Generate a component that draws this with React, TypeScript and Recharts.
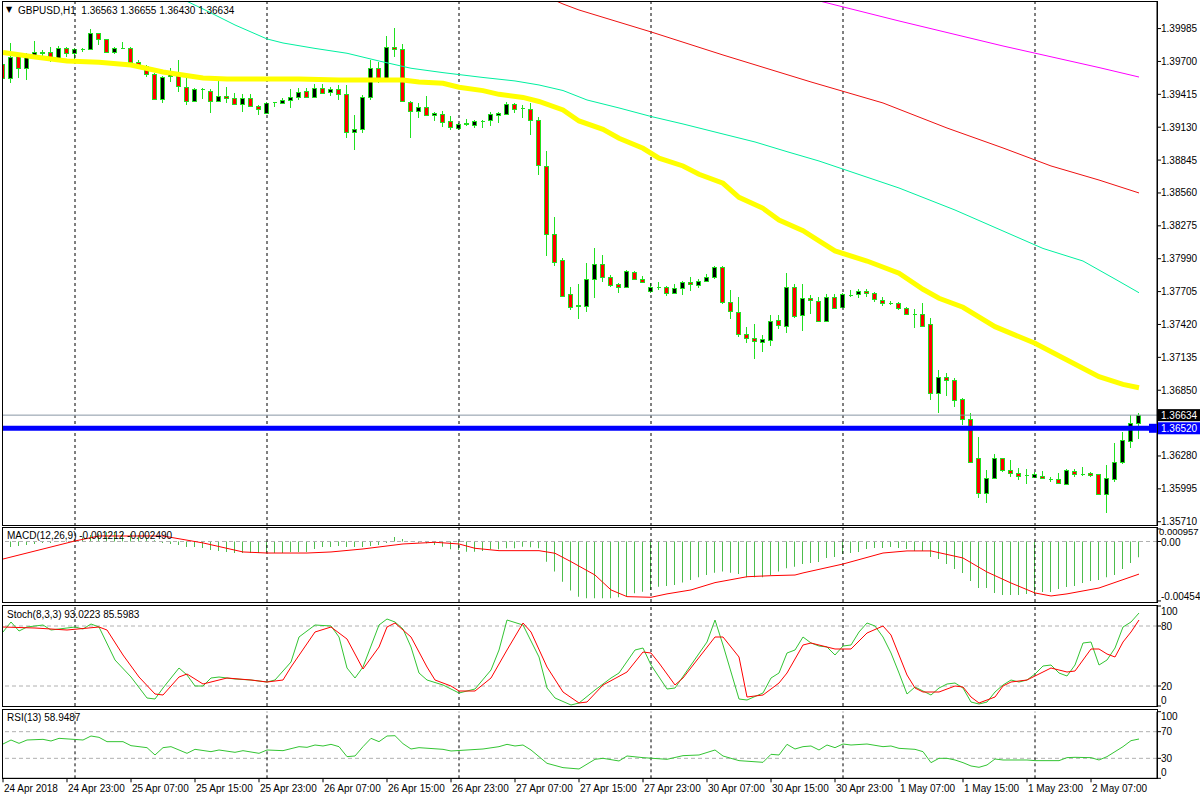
import React from 'react';
import { ComposedChart, Bar, Line, XAxis, YAxis, ReferenceLine } from 'recharts';

const FONT = '"Liberation Sans", Arial, sans-serif';
const X_DOMAIN: [number, number] = [-0.125, 144.25];
const WICK = '#20e020';

// GBPUSD H1, 24 Apr 15:00 .. 2 May 13:00
const openP = [
  1.39676, 1.39554, 1.3975, 1.39641, 1.39756, 1.39776, 1.3978, 1.39728, 1.39814, 1.39771,
  1.39806, 1.39806, 1.39944, 1.39892, 1.3978, 1.39818, 1.39819, 1.39693, 1.39663, 1.39589,
  1.39372, 1.39574, 1.39597, 1.39481, 1.39357, 1.39458, 1.39447, 1.39357, 1.39403, 1.39381,
  1.39329, 1.39381, 1.39314, 1.39251, 1.39346, 1.39337, 1.39366, 1.39396, 1.39444, 1.39395,
  1.39467, 1.39433, 1.39459, 1.39415, 1.39086, 1.39112, 1.39395, 1.39641, 1.39554, 1.39828,
  1.39806, 1.39351, 1.39271, 1.39303, 1.39233, 1.39242, 1.39184, 1.39121, 1.39161, 1.39147,
  1.39186, 1.39193, 1.39233, 1.39242, 1.39329, 1.39294, 1.39285, 1.39193, 1.38794, 1.38204,
  1.37979, 1.37681, 1.3758, 1.37583, 1.37812, 1.37944, 1.37834, 1.37768, 1.37742, 1.37877,
  1.37812, 1.3771, 1.37746, 1.37747, 1.3769, 1.37733, 1.37788, 1.37762, 1.37797, 1.37834,
  1.37916, 1.37612, 1.37525, 1.37335, 1.373, 1.37271, 1.37285, 1.37459, 1.37411, 1.37749,
  1.37499, 1.37647, 1.37626, 1.3745, 1.37661, 1.37574, 1.37678, 1.37681, 1.3771, 1.3769,
  1.37632, 1.37608, 1.37603, 1.3756, 1.37512, 1.37508, 1.37421, 1.36823, 1.36967, 1.36938,
  1.36771, 1.36598, 1.3626, 1.35956, 1.36086, 1.3626, 1.36158, 1.3613, 1.36115, 1.36095,
  1.36109, 1.36083, 1.36078, 1.36034, 1.36147, 1.36124, 1.3613, 1.36121, 1.3595, 1.3608,
  1.36228, 1.36412, 1.36563,
];
const highP = [
  1.39695, 1.39858, 1.39771, 1.39771, 1.39878, 1.398, 1.39828, 1.39834, 1.39828, 1.39814,
  1.39819, 1.39979, 1.3995, 1.39894, 1.39828, 1.39872, 1.39828, 1.39713, 1.39669, 1.39597,
  1.39574, 1.39641, 1.39713, 1.39597, 1.39467, 1.39467, 1.39459, 1.39539, 1.39481, 1.39424,
  1.39418, 1.39415, 1.39323, 1.39351, 1.39351, 1.39381, 1.39459, 1.39467, 1.39467, 1.39505,
  1.39505, 1.39476, 1.39496, 1.39496, 1.39236, 1.39409, 1.39713, 1.39698, 1.39921, 1.39988,
  1.39852, 1.39357, 1.39343, 1.39401, 1.39265, 1.39271, 1.39227, 1.39169, 1.39201, 1.39193,
  1.39193, 1.39265, 1.39259, 1.39351, 1.39337, 1.39323, 1.39337, 1.39221, 1.38926, 1.38354,
  1.37994, 1.37742, 1.37771, 1.37957, 1.3808, 1.38022, 1.37849, 1.37782, 1.37892, 1.37886,
  1.37837, 1.37782, 1.37791, 1.37753, 1.37771, 1.37799, 1.37829, 1.37812, 1.37855, 1.37927,
  1.37927, 1.37719, 1.37655, 1.37395, 1.37424, 1.37329, 1.37502, 1.37502, 1.37864, 1.37771,
  1.37771, 1.37675, 1.37661, 1.37681, 1.37681, 1.3769, 1.37719, 1.37725, 1.37725, 1.37699,
  1.37655, 1.37626, 1.37617, 1.37574, 1.37551, 1.37609, 1.37473, 1.37025, 1.36997, 1.36953,
  1.36785, 1.3665, 1.36442, 1.36158, 1.36297, 1.36262, 1.36245, 1.36173, 1.36164, 1.36137,
  1.36147, 1.361, 1.3613, 1.36164, 1.36164, 1.36181, 1.36137, 1.36124, 1.36204, 1.36395,
  1.3649, 1.36635, 1.36655,
];
const lowP = [
  1.3947, 1.39516, 1.39554, 1.39539, 1.39719, 1.39728, 1.39698, 1.39713, 1.39741, 1.39698,
  1.39785, 1.398, 1.39843, 1.39771, 1.39765, 1.39806, 1.39684, 1.39661, 1.39563, 1.39366,
  1.39337, 1.39525, 1.39438, 1.39323, 1.39351, 1.39372, 1.39251, 1.39351, 1.39337, 1.39323,
  1.39265, 1.39308, 1.39236, 1.39245, 1.39303, 1.39329, 1.39294, 1.39366, 1.39389, 1.39389,
  1.39424, 1.39403, 1.39366, 1.39034, 1.38933, 1.39082, 1.39366, 1.39516, 1.39539, 1.39736,
  1.39351, 1.39039, 1.39207, 1.39227, 1.39182, 1.39134, 1.39106, 1.39106, 1.39141, 1.39126,
  1.39121, 1.39141, 1.39169, 1.39236, 1.39251, 1.39207, 1.39063, 1.38716, 1.38016, 1.37929,
  1.37655, 1.37545, 1.37465, 1.37531, 1.37652, 1.37791, 1.37742, 1.3769, 1.37733, 1.37805,
  1.37777, 1.3769, 1.37719, 1.37667, 1.37684, 1.37675, 1.3771, 1.37733, 1.37791, 1.37812,
  1.37595, 1.37467, 1.37314, 1.37262, 1.37118, 1.37184, 1.37235, 1.37378, 1.37348, 1.37473,
  1.37363, 1.37511, 1.37444, 1.37444, 1.3756, 1.37569, 1.37661, 1.37652, 1.37661, 1.37612,
  1.37583, 1.37589, 1.37545, 1.37502, 1.37392, 1.37407, 1.36765, 1.36655, 1.368, 1.36707,
  1.36548, 1.36216, 1.35913, 1.35869, 1.36078, 1.36137, 1.361, 1.36071, 1.36036, 1.36086,
  1.36078, 1.36057, 1.36033, 1.36028, 1.361, 1.36106, 1.36095, 1.35941, 1.35783, 1.36057,
  1.3621, 1.36346, 1.3643,
];
const closeP = [
  1.39554, 1.39741, 1.39641, 1.3975, 1.3978, 1.39778, 1.39728, 1.39819, 1.39771, 1.39808,
  1.39808, 1.39944, 1.39892, 1.3978, 1.39814, 1.39819, 1.39693, 1.39669, 1.39591, 1.39372,
  1.39563, 1.39597, 1.39487, 1.39357, 1.39459, 1.39459, 1.39357, 1.39403, 1.39381, 1.39329,
  1.39386, 1.39314, 1.39285, 1.39343, 1.39347, 1.39366, 1.39388, 1.39431, 1.39395, 1.39467,
  1.39429, 1.39459, 1.39415, 1.39086, 1.39112, 1.39395, 1.39641, 1.39554, 1.39828, 1.39806,
  1.39357, 1.39271, 1.39303, 1.39236, 1.39251, 1.39175, 1.39129, 1.39156, 1.39164, 1.39182,
  1.39188, 1.39242, 1.39251, 1.39329, 1.39288, 1.39295, 1.39193, 1.38802, 1.38202, 1.37964,
  1.37669, 1.37574, 1.37593, 1.37812, 1.37944, 1.37834, 1.37762, 1.37742, 1.37886, 1.37812,
  1.37791, 1.37747, 1.37747, 1.3769, 1.37733, 1.37785, 1.37768, 1.37794, 1.37834, 1.37916,
  1.37617, 1.37537, 1.37335, 1.373, 1.37277, 1.37291, 1.37453, 1.37415, 1.37749, 1.37496,
  1.37647, 1.37629, 1.3745, 1.37655, 1.37565, 1.37681, 1.37679, 1.37713, 1.3769, 1.37638,
  1.37603, 1.37609, 1.3756, 1.37511, 1.37511, 1.37409, 1.36823, 1.36967, 1.36938, 1.36765,
  1.36598, 1.36225, 1.35956, 1.36086, 1.3626, 1.36158, 1.3613, 1.36109, 1.36114, 1.36121,
  1.36091, 1.36082, 1.36043, 1.36158, 1.36121, 1.36123, 1.36115, 1.3595, 1.36086, 1.36228,
  1.36418, 1.36563, 1.36634,
];

const timeLabels: [number, string][] = [
  [0, '24 Apr 2018'], [8, '24 Apr 23:00'], [16, '25 Apr 07:00'], [24, '25 Apr 15:00'],
  [32, '25 Apr 23:00'], [40, '26 Apr 07:00'], [48, '26 Apr 15:00'], [56, '26 Apr 23:00'],
  [64, '27 Apr 07:00'], [72, '27 Apr 15:00'], [80, '27 Apr 23:00'], [88, '30 Apr 07:00'],
  [96, '30 Apr 15:00'], [104, '30 Apr 23:00'], [112, '1 May 07:00'], [120, '1 May 15:00'],
  [128, '1 May 23:00'], [136, '2 May 07:00'],
];
const daySplits = [9, 33, 57, 81, 105, 129];

// moving averages, read at key bars
const maYellow: [number, number][] = [
  [0, 1.39778], [4, 1.39739], [8, 1.39704], [12, 1.39693], [16, 1.39669], [20, 1.39609],
  [25, 1.39557], [28, 1.39548], [37, 1.39548], [42, 1.39539], [50, 1.39539], [52, 1.39522],
  [55, 1.39511], [57, 1.39476], [60, 1.39447], [62, 1.39415], [65, 1.39388], [67, 1.39353],
  [70, 1.39279], [72, 1.39184], [75, 1.39112], [77, 1.39034], [80, 1.38947], [82, 1.38861],
  [85, 1.38794], [87, 1.38722], [90, 1.38644], [92, 1.38522], [95, 1.38427], [97, 1.38326],
  [100, 1.38233], [102, 1.38144], [104, 1.38057], [108, 1.3797], [112, 1.37864], [115, 1.37725],
  [117, 1.37647], [120, 1.37569], [124, 1.37401], [129, 1.37257], [133, 1.37112], [137, 1.36967],
  [140, 1.36901], [142, 1.36872],
];
const maTeal: [number, number][] = [
  [20, 1.4032], [25, 1.40155], [29, 1.40016], [33, 1.39895], [35, 1.3986], [39, 1.39813],
  [43, 1.39771], [47, 1.39704], [51, 1.39641], [55, 1.39603], [60, 1.39561], [64, 1.39531],
  [67, 1.39496], [70, 1.39448], [73, 1.39366], [77, 1.39297], [81, 1.39223], [85, 1.39158],
  [90, 1.39071], [94, 1.39002], [98, 1.38918], [102, 1.38837], [112, 1.38603], [119, 1.38412],
  [130, 1.38079], [135, 1.3797], [139, 1.37814], [142, 1.37695],
];
const maRed: [number, number][] = [
  [68, 1.40259], [70, 1.40198], [72, 1.40146], [81, 1.39956], [90, 1.39756], [101, 1.39522],
  [110, 1.3934], [118, 1.39123], [125, 1.3895], [131, 1.38794], [137, 1.38672], [142, 1.3856],
];
const maMagenta: [number, number][] = [
  [100, 1.4026], [112, 1.40051], [125, 1.39834], [137, 1.39647], [142, 1.39565],
];

const macdMain = [
  -0.00065, -0.00042, -0.00034, -0.00027, -0.00019, -0.00011, -0.00011, -0.00004, -0.00004, 0.00004,
  0.0003, 0.0005, 0.0006, 0.0007, 0.0007, 0.0006, 0.0006, 0.0005, 0.0003, 0.0001,
  -0.00011, -0.00019, -0.00027, -0.00042, -0.00042, -0.0005, -0.00065, -0.00072, -0.0008, -0.00088,
  -0.00088, -0.00088, -0.00088, -0.00088, -0.00088, -0.00088, -0.0008, -0.0008, -0.0008, -0.00057,
  -0.00042, -0.00042, -0.00034, -0.00042, -0.00042, -0.00042, -0.00034, -0.00027, -0.00011, 0.00034,
  0.00019, -0.00002, -0.00009, -0.00014, -0.00027, -0.0004, -0.0006, -0.00065, -0.00078, -0.00078,
  -0.00072, -0.0006, -0.0006, -0.00052, -0.00052, -0.0004, -0.00044, -0.00052, -0.00154, -0.0023,
  -0.00307, -0.00375, -0.00421, -0.00433, -0.00433, -0.00433, -0.00433, -0.00426, -0.00416, -0.00395,
  -0.00383, -0.0037, -0.00345, -0.0034, -0.00332, -0.00314, -0.00294, -0.00273, -0.00256, -0.00238,
  -0.0023, -0.00238, -0.00248, -0.00273, -0.00273, -0.00273, -0.00256, -0.0023, -0.00204, -0.00192,
  -0.00172, -0.00164, -0.00156, -0.00126, -0.00118, -0.00095, -0.00088, -0.0008, -0.00057, -0.0005,
  -0.0005, -0.00042, -0.0005, -0.00057, -0.00072, -0.00072, -0.00118, -0.00134, -0.00172, -0.0021,
  -0.0024, -0.00301, -0.00355, -0.00355, -0.00393, -0.00408, -0.00408, -0.00408, -0.004, -0.004,
  -0.00385, -0.00385, -0.00362, -0.00347, -0.0034, -0.00317, -0.00301, -0.00294, -0.00273, -0.00256,
  -0.0021, -0.00164, -0.00121,
];
const macdSignal: [number, number][] = [
  [0, -0.00134], [9, 0.00004], [12, 0.00042], [20, 0.00042], [25, -0.00011], [30, -0.0008],
  [33, -0.00088], [38, -0.00088], [41, -0.0008], [45, -0.00057], [50, -0.00019], [54, -0.00006],
  [57, -0.00019], [59, -0.00052], [62, -0.0007], [67, -0.0007], [69, -0.0009], [71, -0.00154],
  [74, -0.00256], [76, -0.0037], [78, -0.00421], [81, -0.00426], [83, -0.004], [86, -0.0037],
  [89, -0.00314], [93, -0.00269], [96, -0.00261], [99, -0.00256], [100, -0.0024], [105, -0.00172],
  [110, -0.00088], [113, -0.00072], [116, -0.00072], [120, -0.00126], [123, -0.00233], [126, -0.00317],
  [129, -0.00393], [131, -0.00416], [133, -0.004], [137, -0.00355], [142, -0.00249],
];

const stochK: [number, number][] = [
  [0, 74], [1, 84], [2, 75], [3, 79], [5, 81], [6, 76], [8, 78], [9, 79], [10, 77], [11, 82],
  [12, 79], [14, 46], [16, 29], [18, 8], [19, 7], [20, 18], [22, 38], [23, 31], [24, 20], [25, 20],
  [26, 28], [27, 29], [29, 27], [31, 26], [33, 24], [34, 26], [36, 44], [37, 69], [39, 81], [41, 80],
  [42, 69], [43, 38], [44, 28], [45, 39], [47, 81], [48, 87], [49, 84], [50, 77], [51, 59], [52, 33],
  [53, 26], [55, 21], [57, 13], [59, 17], [61, 36], [62, 56], [63, 86], [65, 81], [67, 49], [68, 18],
  [69, 8], [71, 1], [72, 3], [74, 16], [76, 28], [77, 33], [79, 56], [80, 58], [81, 41], [83, 17],
  [84, 18], [86, 41], [88, 64], [89, 86], [90, 61], [92, 7], [93, 6], [95, 13], [96, 28], [97, 33],
  [98, 53], [99, 56], [100, 69], [101, 63], [102, 60], [103, 59], [104, 51], [105, 60], [106, 61], [107, 74],
  [108, 83], [109, 80], [110, 69], [111, 53], [112, 33], [113, 12], [114, 19], [115, 15], [116, 11], [117, 18],
  [118, 22], [119, 23], [120, 18], [121, 4], [122, 2], [123, 4], [124, 14], [125, 21], [126, 26], [127, 24],
  [128, 26], [129, 32], [130, 40], [131, 41], [132, 33], [133, 30], [134, 41], [135, 63], [136, 64], [137, 41],
  [138, 46], [139, 58], [140, 79], [141, 84], [142, 93],
];
const stochD: [number, number][] = [
  [0, 79], [4, 78], [8, 76], [12, 79], [13, 76], [15, 51], [17, 29], [19, 12], [20, 11], [22, 29],
  [23, 32], [25, 22], [27, 26], [28, 28], [31, 26], [33, 24], [35, 26], [36, 39], [39, 74], [41, 79],
  [43, 67], [45, 37], [47, 59], [48, 79], [49, 83], [51, 69], [53, 39], [54, 26], [56, 20], [57, 15],
  [59, 15], [61, 28], [63, 56], [65, 83], [66, 74], [68, 39], [70, 14], [72, 3], [73, 4], [75, 21],
  [78, 34], [80, 54], [81, 53], [82, 43], [84, 21], [85, 28], [89, 69], [90, 69], [92, 49], [93, 9],
  [95, 11], [97, 23], [98, 33], [99, 47], [100, 61], [101, 63], [102, 61], [104, 57], [106, 57], [108, 73],
  [110, 80], [111, 71], [112, 51], [113, 31], [114, 18], [115, 14], [117, 14], [119, 20], [120, 19], [121, 9],
  [122, 3], [124, 9], [125, 20], [126, 24], [128, 26], [129, 30], [131, 38], [133, 34], [134, 35], [136, 57],
  [137, 57], [138, 52], [139, 49], [140, 64], [141, 74], [142, 86],
];
const rsi13: [number, number][] = [
  [0, 51.5], [1, 57.5], [2, 52.5], [3, 57.5], [5, 58.5], [6, 56], [7, 60], [10, 57.5], [11, 63.5], [12, 61.5],
  [13, 55], [15, 55], [16, 49], [18, 46], [19, 35], [20, 46], [21, 47.5], [23, 37.5], [24, 43.5], [26, 40],
  [27, 42.5], [29, 39], [30, 41.5], [32, 37.5], [33, 42.5], [35, 41.5], [37, 47.5], [38, 46.5], [39, 50], [40, 48.5],
  [41, 51], [42, 47.5], [43, 32.5], [44, 33.5], [45, 47.5], [46, 60], [47, 55], [48, 63.5], [49, 64], [50, 52],
  [51, 44], [52, 46], [55, 43.5], [56, 41], [58, 42.5], [60, 44], [62, 47.5], [63, 51], [64, 48.5], [65, 50],
  [66, 42.5], [68, 22.5], [70, 16], [72, 14], [74, 28.5], [75, 30], [77, 26], [78, 33.5], [80, 31], [83, 28.5],
  [85, 34], [87, 35], [89, 42.5], [90, 33.5], [92, 26.5], [95, 24], [96, 36], [97, 35], [98, 51], [99, 44],
  [100, 47.5], [101, 48.5], [102, 42.5], [103, 50], [104, 46], [105, 51.5], [106, 50], [108, 51.5], [110, 47.5], [111, 48.5],
  [112, 45], [114, 43.5], [115, 40], [116, 23.5], [117, 30], [118, 30], [119, 27.5], [120, 23.5], [121, 18.5], [122, 16.5],
  [123, 20], [124, 29], [125, 27.5], [126, 27.5], [128, 27.5], [129, 26.5], [132, 26.5], [133, 31], [134, 31.5], [136, 31],
  [137, 27.5], [138, 32.5], [139, 40], [140, 47.5], [141, 56.5], [142, 59],
];

const priceTicks = [
  1.39985, 1.397, 1.39415, 1.3913, 1.38845, 1.3856, 1.38275, 1.3799, 1.37705, 1.3742,
  1.37135, 1.3685, 1.3628, 1.35995, 1.3571,
];
const LAST = 1.36634;
const LEVEL = 1.3652;

const N = openP.length;
const spread = (pairs: [number, number][]) => {
  const out: (number | null)[] = new Array(N).fill(null);
  pairs.forEach(([i, v]) => (out[i] = v));
  return out;
};
const yel = spread(maYellow);
const teal = spread(maTeal);
const red = spread(maRed);
const mag = spread(maMagenta);
const sig = spread(macdSignal);
const kLine = spread(stochK);
const dLine = spread(stochD);
const rsiLine = spread(rsi13);

const rows = openP.map((o, i) => ({
  i,
  hl: [lowP[i], highP[i]],
  o,
  h: highP[i],
  l: lowP[i],
  c: closeP[i],
  yel: yel[i],
  teal: teal[i],
  red: red[i],
  mag: mag[i],
  macd: macdMain[i],
  sig: sig[i],
  k: kLine[i],
  d: dLine[i],
  rsi: rsiLine[i],
}));
const labelMap = new Map(timeLabels);

const Candle = (props: any) => {
  const { x, y, width, height, payload } = props;
  if (x == null || y == null) return null;
  const { o, h, l, c } = payload;
  const cx = Math.floor(x + width / 2);
  const span = h - l;
  const toY = (v: number) => (span > 0 ? y + ((h - v) / span) * height : y);
  const top = Math.round(Math.min(toY(o), toY(c))) + 0.5;
  const bot = Math.round(Math.max(toY(o), toY(c))) + 0.5;
  const fill = c > o ? '#000' : c < o ? '#ff0000' : 'none';
  return (
    <g shapeRendering="crispEdges">
      <line x1={cx + 0.5} x2={cx + 0.5} y1={y} y2={y + height} stroke={WICK} />
      <path
        d={`M${cx - 1.5},${top}H${cx + 2.5}V${bot}H${cx - 1.5}Z`}
        fill={fill}
        stroke={WICK}
        strokeWidth={1}
      />
    </g>
  );
};

const txt = { fontFamily: FONT, fontSize: 10 };

const PriceTick = (props: any) => {
  const { x, y, payload } = props;
  const v: number = payload.value;
  if (v === LAST || v === LEVEL) {
    const bg = v === LAST ? '#000' : '#0000ff';
    return (
      <g>
        {v === LEVEL && <rect x={x - 12} y={y - 4.5} width={9} height={9} fill={bg} />}
        <rect x={x - 3} y={y - 6} width={45} height={12} fill={bg} />
        <text x={x} y={y} dy="0.35em" textAnchor="start" fill="#fff" {...txt}>
          {v.toFixed(5)}
        </text>
      </g>
    );
  }
  return (
    <text x={x} y={y} dy="0.35em" textAnchor="start" fill="#000" {...txt}>
      {v.toFixed(5)}
    </text>
  );
};

const sideTick = (
  fmt: (v: number) => string,
  shift: (v: number) => number,
  size: (v: number) => number = () => 10
) => (props: any) => {
  const { x, y, payload } = props;
  const v = payload.value;
  return (
    <text
      x={x - (size(v) < 10 ? 2 : 0)}
      y={y + shift(v)}
      dy="0.35em"
      textAnchor="start"
      fill="#000"
      fontFamily={FONT}
      fontSize={size(v)}
    >
      {fmt(v)}
    </text>
  );
};
const MacdTick = sideTick(
  (v) => (v === 0 ? '0.00' : v > 0 ? v.toFixed(6) : v.toFixed(5)),
  (v) => (v > 0 ? 3 : v < 0 ? -4 : 1),
  (v) => (v > 0 ? 9.5 : 10)
);
const StochTick = sideTick((v) => String(v), (v) => (v === 100 ? 5.5 : v === 0 ? -6 : 0));
const RsiTick = sideTick((v) => String(v), (v) => (v === 100 ? 5 : v === 0 ? -6 : 0));

const TimeTick = (props: any) => {
  const { x, y, payload } = props;
  return (
    <text x={x + 1} y={y + 6} dy="0.35em" textAnchor="start" fill="#000" {...txt}>
      {labelMap.get(payload.value) ?? ''}
    </text>
  );
};

const separators = () =>
  daySplits.map((d) => (
    <ReferenceLine key={`sep${d}`} x={d} stroke="#000" strokeDasharray="3 3" />
  ));

const abs = (top: number): React.CSSProperties => ({ position: 'absolute', left: 0, top });
const frame = (top: number, height: number): React.CSSProperties => ({
  position: 'absolute',
  left: 2,
  top,
  width: 1156,
  height,
  border: '1px solid #000',
  boxSizing: 'border-box',
  pointerEvents: 'none',
});
const label = (top: number, left: number): React.CSSProperties => ({
  position: 'absolute',
  left,
  top,
  fontFamily: FONT,
  fontSize: 10,
  lineHeight: '12px',
  color: '#000',
  whiteSpace: 'pre',
});

export default function App() {
  const yAxisCommon = {
    orientation: 'right' as const,
    width: 43,
    allowDataOverflow: true,
    interval: 0 as const,
    tickSize: 4,
    tickMargin: 0,
    tickLine: { stroke: '#000' },
    axisLine: { stroke: '#000' },
  };
  return (
    <div
      style={{
        position: 'fixed',
        left: 0,
        top: 0,
        width: 1200,
        height: 800,
        background: '#fff',
        overflow: 'hidden',
      }}
    >
      {/* price panel */}
      <div style={abs(0)}>
        <ComposedChart width={1200} height={527} data={rows} margin={{ top: 1, right: 0, bottom: 1, left: 2 }}>
          <XAxis dataKey="i" type="number" domain={X_DOMAIN} allowDataOverflow hide />
          <YAxis {...yAxisCommon} domain={[1.35673, 1.40224]} ticks={[...priceTicks, LAST, LEVEL]} tick={<PriceTick />} />
          {separators()}
          <ReferenceLine y={LAST} stroke="#8896a4" />
          <ReferenceLine y={LEVEL} stroke="#0000ff" strokeWidth={5} />
          <Line dataKey="mag" stroke="#ff00ff" strokeWidth={1} dot={false} connectNulls isAnimationActive={false} />
          <Line dataKey="red" stroke="#ee1111" strokeWidth={1} dot={false} connectNulls isAnimationActive={false} />
          <Line dataKey="teal" stroke="#00f0a0" strokeWidth={1} dot={false} connectNulls isAnimationActive={false} />
          <Line dataKey="yel" stroke="#ffff00" strokeWidth={5} dot={false} connectNulls isAnimationActive={false} />
          <Bar dataKey="hl" barSize={5} shape={<Candle />} isAnimationActive={false} />
        </ComposedChart>
      </div>

      {/* MACD panel */}
      <div style={abs(527)}>
        <ComposedChart width={1200} height={76} data={rows} margin={{ top: 1, right: 0, bottom: 1, left: 2 }}>
          <XAxis dataKey="i" type="number" domain={X_DOMAIN} allowDataOverflow hide />
          <YAxis {...yAxisCommon} domain={[-0.00462, 0.00103]} ticks={[0.000957, 0, -0.00454]} tick={<MacdTick />} />
          <ReferenceLine y={0} stroke="#b0b0b0" strokeDasharray="4 3" />
          {separators()}
          <Bar dataKey="macd" barSize={1} fill="#4dbd4d" isAnimationActive={false} />
          <Line dataKey="sig" stroke="#ff0000" strokeWidth={1} dot={false} connectNulls isAnimationActive={false} />
        </ComposedChart>
      </div>

      {/* Stochastic panel */}
      <div style={abs(605)}>
        <ComposedChart width={1200} height={102} data={rows} margin={{ top: 1, right: 0, bottom: 1, left: 2 }}>
          <XAxis dataKey="i" type="number" domain={X_DOMAIN} allowDataOverflow hide />
          <YAxis {...yAxisCommon} domain={[0, 100]} ticks={[100, 80, 20, 0]} tick={<StochTick />} />
          <ReferenceLine y={80} stroke="#b0b0b0" strokeDasharray="4 3" />
          <ReferenceLine y={20} stroke="#b0b0b0" strokeDasharray="4 3" />
          {separators()}
          <Line dataKey="k" stroke="#33c433" strokeWidth={1} dot={false} connectNulls isAnimationActive={false} />
          <Line dataKey="d" stroke="#ff0000" strokeWidth={1} dot={false} connectNulls isAnimationActive={false} />
        </ComposedChart>
      </div>

      {/* RSI panel + time axis */}
      <div style={abs(700)}>
        <ComposedChart width={1200} height={100} data={rows} margin={{ top: 11.7, right: 0, bottom: 0, left: 2 }}>
          <XAxis
            dataKey="i"
            type="number"
            domain={X_DOMAIN}
            allowDataOverflow
            ticks={timeLabels.map((t) => t[0])}
            interval={0}
            height={21.7}
            tickSize={4}
            tickMargin={0}
            tickLine={{ stroke: '#000' }}
            axisLine={{ stroke: '#000' }}
            tick={<TimeTick />}
          />
          <YAxis {...yAxisCommon} domain={[0, 100]} ticks={[100, 70, 30, 0]} tick={<RsiTick />} />
          <ReferenceLine y={70} stroke="#b0b0b0" strokeDasharray="4 3" />
          <ReferenceLine y={30} stroke="#b0b0b0" strokeDasharray="4 3" />
          {separators()}
          <Line dataKey="rsi" stroke="#33c433" strokeWidth={1} dot={false} connectNulls isAnimationActive={false} />
        </ComposedChart>
      </div>

      <div style={frame(1, 525)} />
      <div style={frame(527, 76)} />
      <div style={frame(605, 102)} />
      <div style={frame(709, 70)} />

      <div style={{ ...label(4, 6), fontFamily: '"DejaVu Sans", sans-serif', fontSize: 8 }}>▼</div>
      <div style={label(4.5, 18)}>GBPUSD,H1  1.36563 1.36655 1.36430 1.36634</div>
      <div style={label(530, 7)}>MACD(12,26,9) -0.001212 -0.002490</div>
      <div style={label(609, 7)}>Stoch(8,3,3) 93.0223 85.5983</div>
      <div style={label(712, 7)}>RSI(13) 58.9487</div>
    </div>
  );
}
